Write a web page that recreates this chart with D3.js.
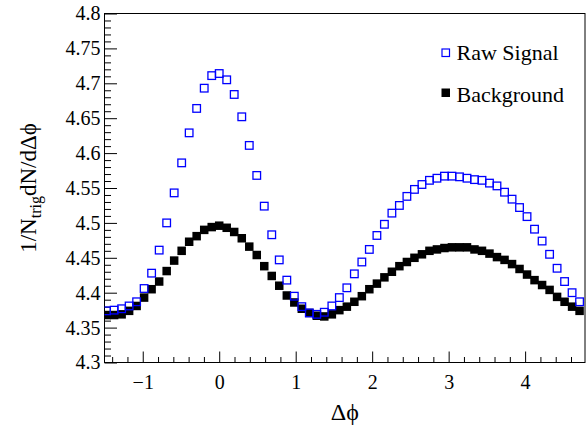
<!DOCTYPE html>
<html>
<head>
<meta charset="utf-8">
<script src="https://cdn.jsdelivr.net/npm/d3@7"></script>
<style>
  body { margin: 0; background: #fff; }
</style>
</head>
<body>
<div id="chart"></div>
<script>
// delta phi bin positions
const dphi = [
    -1.473, -1.374, -1.276, -1.178, -1.080, -0.982, -0.884, -0.785, -0.687, -0.589,
    -0.491, -0.393, -0.295, -0.196, -0.098, 0.000, 0.098, 0.196, 0.295, 0.393,
    0.491, 0.589, 0.687, 0.785, 0.884, 0.982, 1.080, 1.178, 1.276, 1.374,
    1.473, 1.571, 1.669, 1.767, 1.865, 1.963, 2.062, 2.160, 2.258, 2.356,
    2.454, 2.553, 2.651, 2.749, 2.847, 2.945, 3.043, 3.142, 3.240, 3.338,
    3.436, 3.534, 3.632, 3.731, 3.829, 3.927, 4.025, 4.123, 4.222, 4.320,
    4.418, 4.516, 4.614, 4.712
];
const rawSignal = [
    4.374, 4.375, 4.377, 4.381, 4.387, 4.406, 4.428, 4.461, 4.500, 4.543,
    4.586, 4.629, 4.664, 4.693, 4.711, 4.714, 4.705, 4.684, 4.652, 4.611,
    4.568, 4.524, 4.483, 4.447, 4.418, 4.395, 4.380, 4.371, 4.369, 4.372,
    4.381, 4.393, 4.407, 4.427, 4.444, 4.462, 4.482, 4.498, 4.514, 4.525,
    4.538, 4.548, 4.555, 4.561, 4.564, 4.567, 4.567, 4.566, 4.564, 4.562,
    4.561, 4.557, 4.553, 4.544, 4.534, 4.522, 4.509, 4.491, 4.474, 4.455,
    4.435, 4.416, 4.400, 4.387
];
const background = [
    4.368, 4.368, 4.369, 4.374, 4.381, 4.393, 4.405, 4.416, 4.431, 4.446,
    4.460, 4.473, 4.481, 4.490, 4.494, 4.496, 4.493, 4.487, 4.478, 4.466,
    4.454, 4.438, 4.424, 4.410, 4.396, 4.386, 4.377, 4.371, 4.367, 4.366,
    4.369, 4.375, 4.380, 4.387, 4.395, 4.405, 4.413, 4.422, 4.430, 4.438,
    4.444, 4.450, 4.455, 4.460, 4.462, 4.464, 4.465, 4.465, 4.465, 4.462,
    4.460, 4.456, 4.451, 4.447, 4.441, 4.434, 4.426, 4.418, 4.411, 4.404,
    4.394, 4.387, 4.380, 4.374
];
const xTicks = [-1, 0, 1, 2, 3, 4];
const yTicks = [4.3, 4.35, 4.4, 4.45, 4.5, 4.55, 4.6, 4.65, 4.7, 4.75, 4.8];
const legendLabels = ["Raw Signal", "Background"];

const width = 587, height = 425;
const plotLeft = 104.5, plotRight = 585, plotTop = 13.5, plotBottom = 362.5;
const font = "Liberation Serif";

const svg = d3.select("#chart").append("svg")
    .attr("width", width).attr("height", height);

const x = d3.scaleLinear().domain([-1.5, 4.783]).range([plotLeft, plotRight]);
const y = d3.scaleLinear().domain([4.3, 4.8]).range([plotBottom, plotTop]);

svg.append("clipPath").attr("id", "clip")
    .append("rect").attr("x", plotLeft).attr("y", plotTop)
    .attr("width", plotRight - plotLeft).attr("height", plotBottom - plotTop);

// minor ticks
const xMinor = d3.range(-1.4, 4.79, 0.2).filter(v => Math.abs(v - Math.round(v)) > 0.01);
const yMinor = d3.range(4.31, 4.8, 0.01).filter(v => Math.abs(v * 20 - Math.round(v * 20)) > 0.01);

svg.append("g").attr("transform", `translate(0,${plotBottom})`)
    .call(d3.axisBottom(x).tickValues(xMinor).tickSize(-5.5).tickFormat(""))
    .call(g => g.select(".domain").remove());
svg.append("g").attr("transform", `translate(${plotLeft},0)`)
    .call(d3.axisLeft(y).tickValues(yMinor).tickSize(-6.5).tickFormat(""))
    .call(g => g.select(".domain").remove());

const xAxis = svg.append("g").attr("transform", `translate(0,${plotBottom})`)
    .call(d3.axisBottom(x).tickValues(xTicks).tickSize(-11).tickPadding(8)
        .tickFormat(d => d < 0 ? "\u2212" + Math.abs(d) : String(d)));
xAxis.select(".domain").remove();
xAxis.selectAll("text").attr("font-size", 20).attr("dy", "0.9em");

const yAxis = svg.append("g").attr("transform", `translate(${plotLeft},0)`)
    .call(d3.axisLeft(y).tickValues(yTicks).tickSize(-12.5).tickPadding(4)
        .tickFormat(d => String(+d.toFixed(2))));
yAxis.select(".domain").remove();
yAxis.selectAll("text").attr("font-size", 20);

svg.selectAll(".tick line").attr("stroke", "#000").attr("stroke-width", 1);
svg.selectAll(".tick text").attr("fill", "#000");

// frame
svg.append("rect")
    .attr("x", plotLeft).attr("y", plotTop)
    .attr("width", plotRight - plotLeft).attr("height", plotBottom - plotTop)
    .attr("fill", "none").attr("stroke", "#000").attr("stroke-width", 1);

const plot = svg.append("g").attr("clip-path", "url(#clip)");
const bs = 8.5, rs = 7.6;

plot.selectAll(".bkg")
    .data(dphi.map((d, i) => [d, background[i]]))
    .join("rect")
    .attr("class", "bkg")
    .attr("x", d => x(d[0]) - bs / 2)
    .attr("y", d => y(d[1]) - bs / 2)
    .attr("width", bs).attr("height", bs)
    .attr("fill", "#000");

plot.selectAll(".raw")
    .data(dphi.map((d, i) => [d, rawSignal[i]]))
    .join("rect")
    .attr("class", "raw")
    .attr("x", d => x(d[0]) - rs / 2)
    .attr("y", d => y(d[1]) - rs / 2)
    .attr("width", rs).attr("height", rs)
    .attr("fill", "none").attr("stroke", "#0000ff").attr("stroke-width", 1.3);

// legend
const legend = svg.append("g");
legend.append("rect").attr("x", 442).attr("y", 49).attr("width", 7.5).attr("height", 7.5)
    .attr("fill", "none").attr("stroke", "#0000ff").attr("stroke-width", 1.2);
legend.append("rect").attr("x", 441.5).attr("y", 88.5).attr("width", 8.5).attr("height", 8.5)
    .attr("fill", "#000");
legend.selectAll(".lab")
    .data(legendLabels)
    .join("text")
    .attr("class", "lab")
    .attr("x", 456.5)
    .attr("y", (d, i) => 60 + i * 41.5)
    .attr("font-size", 22)
    .text(d => d);

// axis titles
svg.append("text")
    .attr("x", (plotLeft + plotRight) / 2).attr("y", 420)
    .attr("text-anchor", "middle").attr("font-size", 24)
    .text("\u0394\u03d5");

const yt = svg.append("text")
    .attr("transform", `translate(36,${(plotTop + plotBottom) / 2}) rotate(-90)`)
    .attr("text-anchor", "middle").attr("font-size", 23);
yt.append("tspan").text("1/N");
yt.append("tspan").attr("font-size", 16).attr("dy", 5).text("trig");
yt.append("tspan").attr("dy", -5).text("dN/d\u0394\u03d5");

// serif everywhere, set on each text node
svg.selectAll("text").attr("font-family", font).style("font-family", "'Liberation Serif', serif");
</script>
</body>
</html>
